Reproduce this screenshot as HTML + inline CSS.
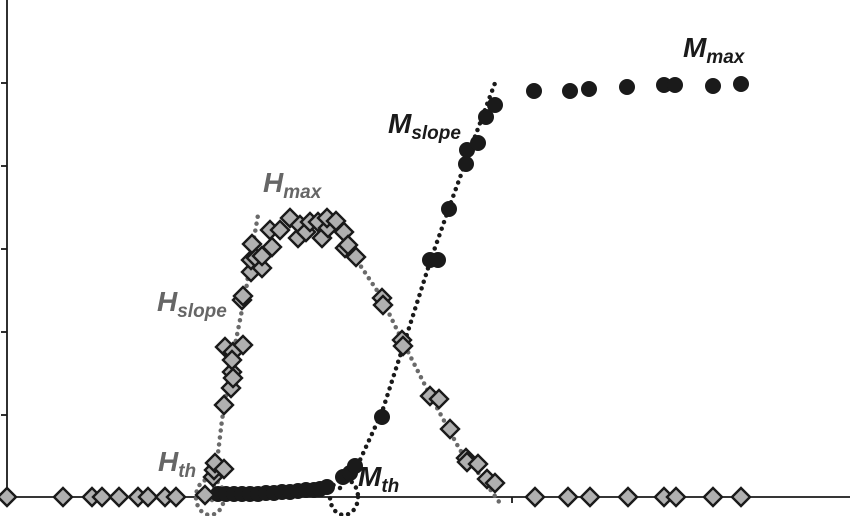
<!DOCTYPE html>
<html><head><meta charset="utf-8"><style>
html,body{margin:0;padding:0;background:#fff;}
svg{display:block;}
text{font-family:"Liberation Sans",sans-serif;font-weight:bold;font-style:italic;}
</style></head><body>
<svg width="850" height="516" viewBox="0 0 850 516" xmlns="http://www.w3.org/2000/svg">
<defs>
<polygon id="d" points="0,-9 9,0 0,9 -9,0" fill="#b0b0b0" stroke="#1a1a1a" stroke-width="2.4"/>
<circle id="c" r="8" fill="#1a1a1a"/>
</defs>
<g stroke="#1a1a1a" stroke-width="1.8">
<line x1="7" y1="0" x2="7" y2="497"/>
<line x1="0" y1="497" x2="850" y2="497"/>
<line x1="1" y1="83" x2="7" y2="83"/>
<line x1="1" y1="166" x2="7" y2="166"/>
<line x1="1" y1="249" x2="7" y2="249"/>
<line x1="1" y1="332" x2="7" y2="332"/>
<line x1="1" y1="415" x2="7" y2="415"/>
<line x1="512" y1="497" x2="512" y2="503"/>
</g>
<g fill="none" stroke-linecap="round" stroke-width="4.5" stroke-dasharray="0 7">
<polyline stroke="#6a6a6a" points="212,500 216,470 222,420 230,370 238,330 246,290 252,250 258,215"/>
<polyline stroke="#6a6a6a" points="328,213 350,250 380,295 402,340 430,395 460,450 480,475 502,506"/>
<polyline stroke="#1a1a1a" points="340,488 360,460 382,412 402,350 430,262 450,205 470,150 495,83"/>
<polyline stroke="#1a1a1a" points="215,494 260,493 300,490 330,486"/>
<ellipse stroke="#6a6a6a" cx="210" cy="497" rx="14" ry="18"/>
<ellipse stroke="#1a1a1a" cx="344" cy="497" rx="14" ry="18"/>
</g>
<g>
<use href="#c" x="218" y="494"/><use href="#c" x="226" y="494"/><use href="#c" x="234" y="494"/><use href="#c" x="242" y="494"/>
<use href="#c" x="250" y="494"/><use href="#c" x="258" y="494"/><use href="#c" x="266" y="493"/><use href="#c" x="274" y="493"/>
<use href="#c" x="282" y="492"/><use href="#c" x="290" y="492"/><use href="#c" x="298" y="491"/><use href="#c" x="306" y="490"/>
<use href="#c" x="314" y="490"/><use href="#c" x="320" y="489"/><use href="#c" x="327" y="487"/>
<use href="#c" x="343" y="477"/><use href="#c" x="350" y="473"/><use href="#c" x="355" y="466"/>
<use href="#c" x="382" y="417"/><use href="#c" x="430" y="260"/><use href="#c" x="438" y="260"/>
<use href="#c" x="449" y="209"/><use href="#c" x="466" y="164"/><use href="#c" x="467" y="150"/>
<use href="#c" x="478" y="143"/><use href="#c" x="486" y="117"/><use href="#c" x="495" y="105"/>
<use href="#c" x="534" y="91"/><use href="#c" x="570" y="91"/><use href="#c" x="589" y="89"/>
<use href="#c" x="627" y="87"/><use href="#c" x="664" y="85"/><use href="#c" x="675" y="85"/>
<use href="#c" x="713" y="86"/><use href="#c" x="741" y="84"/>
</g>
<g>
<use href="#d" x="7" y="497"/><use href="#d" x="63" y="497"/><use href="#d" x="92" y="497"/><use href="#d" x="102" y="497"/>
<use href="#d" x="119" y="497"/><use href="#d" x="138" y="497"/><use href="#d" x="148" y="497"/><use href="#d" x="165" y="497"/>
<use href="#d" x="176" y="497"/><use href="#d" x="205" y="495"/>
<use href="#d" x="535" y="497"/><use href="#d" x="568" y="497"/><use href="#d" x="590" y="497"/><use href="#d" x="628" y="497"/>
<use href="#d" x="664" y="497"/><use href="#d" x="676" y="497"/><use href="#d" x="713" y="497"/><use href="#d" x="741" y="497"/>
<use href="#d" x="213" y="477"/><use href="#d" x="214" y="470"/><use href="#d" x="215" y="463"/><use href="#d" x="224" y="469"/>
<use href="#d" x="224" y="405"/><use href="#d" x="231" y="388"/><use href="#d" x="232" y="372"/><use href="#d" x="233" y="378"/>
<use href="#d" x="225" y="347"/><use href="#d" x="233" y="352"/><use href="#d" x="243" y="345"/><use href="#d" x="232" y="360"/>
<use href="#d" x="242" y="300"/><use href="#d" x="243" y="296"/>
<use href="#d" x="251" y="272"/><use href="#d" x="251" y="260"/><use href="#d" x="252" y="244"/><use href="#d" x="256" y="258"/>
<use href="#d" x="262" y="268"/><use href="#d" x="262" y="256"/><use href="#d" x="270" y="230"/><use href="#d" x="272" y="247"/>
<use href="#d" x="280" y="230"/><use href="#d" x="290" y="218"/><use href="#d" x="298" y="238"/><use href="#d" x="300" y="225"/>
<use href="#d" x="306" y="232"/><use href="#d" x="310" y="222"/><use href="#d" x="318" y="222"/><use href="#d" x="322" y="238"/>
<use href="#d" x="328" y="228"/><use href="#d" x="327" y="218"/><use href="#d" x="336" y="221"/><use href="#d" x="344" y="232"/>
<use href="#d" x="345" y="248"/><use href="#d" x="348" y="245"/><use href="#d" x="356" y="257"/>
<use href="#d" x="382" y="298"/><use href="#d" x="383" y="305"/><use href="#d" x="402" y="340"/><use href="#d" x="403" y="346"/>
<use href="#d" x="430" y="396"/><use href="#d" x="439" y="399"/><use href="#d" x="450" y="429"/>
<use href="#d" x="466" y="458"/><use href="#d" x="467" y="462"/><use href="#d" x="478" y="464"/>
<use href="#d" x="487" y="479"/><use href="#d" x="495" y="483"/>
</g>
<text x="683" y="57" font-size="28" fill="#1a1a1a">M<tspan font-size="19" dy="6">max</tspan></text>
<text x="388" y="133" font-size="28" fill="#1a1a1a">M<tspan font-size="19" dy="6">slope</tspan></text>
<text x="263" y="192" font-size="28" fill="#666">H<tspan font-size="19" dy="6">max</tspan></text>
<text x="157" y="311" font-size="28" fill="#666">H<tspan font-size="19" dy="6">slope</tspan></text>
<text x="158" y="471" font-size="28" fill="#666">H<tspan font-size="19" dy="6">th</tspan></text>
<text x="358" y="486" font-size="28" fill="#1a1a1a">M<tspan font-size="19" dy="6">th</tspan></text>
</svg>
</body></html>
